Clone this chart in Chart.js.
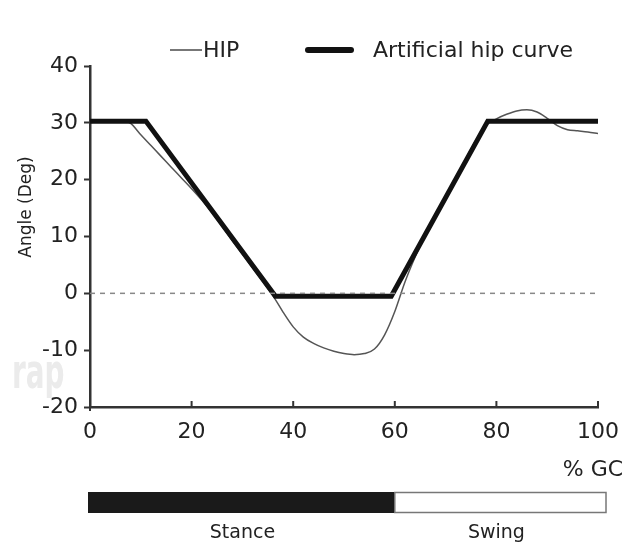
<!DOCTYPE html>
<html>
<head>
<meta charset="utf-8">
<script src="https://cdn.jsdelivr.net/npm/chart.js@4"></script>
<style>
  html, body { margin: 0; padding: 0; background: #fff; }
  #wrap { position: relative; width: 631px; height: 544px; }
</style>
</head>
<body>
<div id="wrap"><canvas id="chart" width="631" height="544"></canvas></div>
<script>
// % of gait cycle and hip angle (deg)
const gcPercent = [0, 2, 4, 6, 8, 10, 12, 14, 16, 18, 20, 22, 24, 26, 28, 30, 32, 34, 36, 38, 40,
    42, 44, 46, 48, 50, 52, 54, 56, 58, 60, 62, 64, 66, 68, 70, 72, 74, 76, 78, 80,
    82, 84, 86, 88, 90, 92, 94, 96, 98, 100];
const hipAngle = [30, 30.3, 30.5, 30.5, 29.9, 27.9, 26.0, 24.1, 22.2, 20.3, 18.4, 16.4, 14.2, 11.8, 9.3, 6.9, 4.5, 2.1, -0.4, -3.3, -5.9,
    -7.7, -8.8, -9.6, -10.2, -10.6, -10.8, -10.6, -9.8, -7.3, -3.2, 2.0, 6.4, 10.3, 13.7, 17.0, 20.4, 23.7, 27.0, 29.6, 30.7,
    31.5, 32.1, 32.3, 31.9, 30.8, 29.5, 28.8, 28.6, 28.4, 28.1];

// artificial hip curve break points
const artificialX = [0, 11, 36.5, 59.3, 78.3, 100];
const artificialY = [30.3, 30.3, -0.5, -0.5, 30.3, 30.3];

const zeroX = [0, 100];
const zeroY = [0, 0];

const xTicks = [0, 20, 40, 60, 80, 100];
const yTicks = [-20, -10, 0, 10, 20, 30, 40];

const legendLabels = ['HIP', 'Artificial hip curve'];
const phaseLabels = ['Stance', 'Swing'];
const phaseBounds = [0, 60, 100];

const FONT = '"DejaVu Sans", sans-serif';

function toPoints(xs, ys) {
    return xs.map((x, i) => ({ x: x, y: ys[i] }));
}

const extras = {
    id: 'extras',
    afterDraw(chart) {
        const ctx = chart.ctx;
        const x = chart.scales.x;
        const area = chart.chartArea;
        ctx.save();

        // inward x ticks
        ctx.strokeStyle = '#333';
        ctx.lineWidth = 2;
        xTicks.forEach(v => {
            const px = x.getPixelForValue(v);
            ctx.beginPath();
            ctx.moveTo(px, area.bottom + (v === 0 ? 4 : 0));
            ctx.lineTo(px, area.bottom - 6);
            ctx.stroke();
        });

        // legend
        ctx.fillStyle = '#222';
        ctx.font = '22px ' + FONT;
        ctx.textBaseline = 'middle';
        ctx.strokeStyle = '#777';
        ctx.lineWidth = 2;
        ctx.beginPath();
        ctx.moveTo(170, 50);
        ctx.lineTo(202, 50);
        ctx.stroke();
        ctx.fillText(legendLabels[0], 203, 51);
        ctx.strokeStyle = '#111';
        ctx.lineWidth = 6;
        ctx.lineCap = 'round';
        ctx.beginPath();
        ctx.moveTo(308, 50);
        ctx.lineTo(351, 50);
        ctx.stroke();
        ctx.lineCap = 'butt';
        ctx.fillText(legendLabels[1], 373, 51);

        // axis titles
        ctx.textAlign = 'center';
        ctx.fillText('% GC', 593, 470);
        ctx.save();
        ctx.translate(27, 207);
        ctx.rotate(-Math.PI / 2);
        ctx.font = '17px ' + FONT;
        ctx.fillText('Angle (Deg)', 0, 0);
        ctx.restore();

        // gait phase bar
        const top = 492, h = 21;
        const p0 = x.getPixelForValue(phaseBounds[0]) - 2;
        const p1 = x.getPixelForValue(phaseBounds[1]);
        const p2 = x.getPixelForValue(phaseBounds[2]) + 8;
        ctx.fillStyle = '#1a1a1a';
        ctx.fillRect(p0, top, p1 - p0, h);
        ctx.strokeStyle = '#777';
        ctx.lineWidth = 1.5;
        ctx.strokeRect(p1, top + 0.5, p2 - p1, h - 1);
        ctx.fillStyle = '#222';
        ctx.font = '19px ' + FONT;
        for (let i = 0; i < phaseLabels.length; i++) {
            const mid = x.getPixelForValue((phaseBounds[i] + phaseBounds[i + 1]) / 2);
            ctx.fillText(phaseLabels[i], mid, 533);
        }

        // faint watermark fragment
        ctx.save();
        ctx.fillStyle = '#ebebeb';
        ctx.font = 'bold 48px ' + FONT;
        ctx.textAlign = 'left';
        ctx.textBaseline = 'alphabetic';
        ctx.translate(12, 388);
        ctx.scale(0.58, 1);
        ctx.fillText('rap', 0, 0);
        ctx.restore();

        ctx.restore();
    }
};

new Chart(document.getElementById('chart'), {
    type: 'line',
    data: {
        datasets: [
            {
                label: 'zero',
                data: toPoints(zeroX, zeroY),
                borderColor: '#888',
                borderWidth: 1.5,
                borderDash: [5, 5],
                pointRadius: 0
            },
            {
                label: legendLabels[1],
                data: toPoints(artificialX, artificialY),
                borderColor: '#111',
                borderWidth: 5,
                pointRadius: 0,
                tension: 0
            },
            {
                label: legendLabels[0],
                data: toPoints(gcPercent, hipAngle),
                borderColor: '#555',
                borderWidth: 1.5,
                pointRadius: 0,
                cubicInterpolationMode: 'monotone'
            }
        ]
    },
    options: {
        responsive: false,
        animation: false,
        layout: { padding: { left: 0, top: 66, right: 30, bottom: 0 } },
        plugins: {
            legend: { display: false },
            tooltip: { enabled: false }
        },
        scales: {
            x: {
                type: 'linear',
                min: 0,
                max: 100,
                afterFit: s => { s.height = 137; },
                afterBuildTicks: s => { s.ticks = xTicks.map(v => ({ value: v })); },
                grid: { drawOnChartArea: false, drawTicks: false },
                border: { color: '#333', width: 2.5 },
                ticks: { color: '#222', font: { size: 22, family: FONT }, padding: 12, maxRotation: 0 }
            },
            y: {
                min: -20,
                max: 40,
                afterFit: s => { s.width = 90; },
                afterBuildTicks: s => { s.ticks = yTicks.map(v => ({ value: v })); },
                grid: { drawOnChartArea: false, tickLength: 6, tickColor: '#333', tickWidth: 2 },
                border: { color: '#333', width: 2.5 },
                ticks: { color: '#222', font: { size: 22, family: FONT }, padding: 6 }
            }
        }
    },
    plugins: [extras]
});
</script>
</body>
</html>
